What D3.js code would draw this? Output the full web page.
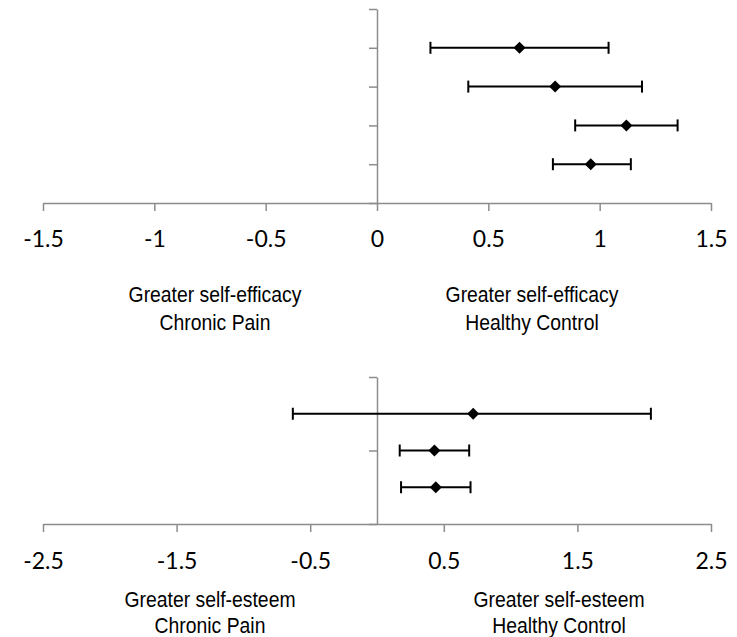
<!DOCTYPE html>
<html>
<head>
<meta charset="utf-8">
<script src="https://cdn.jsdelivr.net/npm/d3@7"></script>
<style>
  html, body { margin: 0; padding: 0; background: #fff; }
  svg { display: block; }
</style>
</head>
<body>
<svg id="chart" width="737" height="637"></svg>
<script>
// Self-efficacy: mean difference with 95% CI, rows from top to bottom
const efficacyRows = [4, 3, 2, 1];
const efficacyMean = [0.64, 0.80, 1.12, 0.96];
const efficacyLow  = [0.24, 0.41, 0.89, 0.79];
const efficacyHigh = [1.04, 1.19, 1.35, 1.14];
const efficacyTicks = [-1.5, -1, -0.5, 0, 0.5, 1, 1.5];
const efficacyRowTicks = [0, 1, 2, 3, 4, 5];

// Self-esteem: mean difference with 95% CI, rows from top to bottom
const esteemRows = [3, 2, 1];
const esteemMean = [0.72, 0.43, 0.44];
const esteemLow  = [-0.63, 0.17, 0.18];
const esteemHigh = [2.05, 0.69, 0.70];
const esteemTicks = [-2.5, -1.5, -0.5, 0.5, 1.5, 2.5];
const esteemRowTicks = [0, 2, 4];

const efficacyLeftLabel  = ["Greater self-efficacy", "Chronic Pain"];
const efficacyRightLabel = ["Greater self-efficacy", "Healthy Control"];
const esteemLeftLabel    = ["Greater self-esteem", "Chronic Pain"];
const esteemRightLabel   = ["Greater self-esteem", "Healthy Control"];

const svg = d3.select("#chart");
const AXIS_COLOR = "#8c8c8c";

function drawPanel(cfg) {
  const g = svg.append("g");
  const x = d3.scaleLinear().domain(cfg.xDomain).range([43, 711]);
  const y = d3.scaleLinear().domain(cfg.yDomain).range(cfg.yRange);

  // vertical (row) axis at x = 0
  const yAxis = d3.axisLeft(y).tickValues(cfg.rowTicks).tickSize(8).tickSizeOuter(0).tickFormat("");
  const ya = g.append("g").attr("transform", `translate(${x(0)},0)`).call(yAxis);
  ya.select(".domain").attr("stroke", AXIS_COLOR).attr("stroke-width", 1.5);
  ya.selectAll(".tick line").attr("stroke", AXIS_COLOR).attr("stroke-width", 1.5);

  // horizontal value axis (plain hyphen for negatives)
  const xAxis = d3.axisBottom(x).tickValues(cfg.ticks).tickSize(8).tickSizeOuter(0)
    .tickFormat(d => String(d));
  const xa = g.append("g").attr("transform", `translate(0,${y(0)})`).call(xAxis);
  xa.select(".domain").attr("stroke", AXIS_COLOR).attr("stroke-width", 1.5);
  xa.selectAll(".tick line").attr("stroke", AXIS_COLOR).attr("stroke-width", 1.5);
  xa.selectAll(".tick text")
    .attr("y", cfg.tickLabelY).attr("dy", null)
    .attr("fill", "#000")
    .style("font-family", "Lato, 'Open Sans', sans-serif")
    .style("font-size", "23px");

  const rows = cfg.rows.map((r, i) => ({ r, m: cfg.mean[i], lo: cfg.low[i], hi: cfg.high[i] }));

  // confidence interval lines and caps
  const bars = g.append("g").selectAll("g").data(rows).join("g");
  bars.append("line")
    .attr("x1", d => x(d.lo)).attr("x2", d => x(d.hi))
    .attr("y1", d => y(d.r)).attr("y2", d => y(d.r))
    .attr("stroke", "#000").attr("stroke-width", 2);
  [d => d.lo, d => d.hi].forEach(acc => {
    bars.append("line")
      .attr("x1", d => x(acc(d))).attr("x2", d => x(acc(d)))
      .attr("y1", d => y(d.r) - 6).attr("y2", d => y(d.r) + 6)
      .attr("stroke", "#000").attr("stroke-width", 2);
  });

  // point estimates as diamonds
  const diamond = d3.symbol().type(d3.symbolSquare).size(72);
  g.append("g").selectAll("path").data(rows).join("path")
    .attr("d", diamond)
    .attr("transform", d => `translate(${x(d.m)},${y(d.r)}) rotate(45)`)
    .attr("fill", "#000");

  // direction labels under the axis
  const labelFont = "'Liberation Sans', Arial, sans-serif";
  [[cfg.leftLabel, cfg.leftX], [cfg.rightLabel, cfg.rightX]].forEach(([lines, cx]) => {
    lines.forEach((t, i) => {
      g.append("text")
        .attr("transform", `translate(${cx},${cfg.labelY[i]}) scale(0.88,1)`)
        .attr("text-anchor", "middle")
        .style("font-family", labelFont)
        .style("font-size", "22px")
        .attr("fill", "#000")
        .text(t);
    });
  });
}

drawPanel({
  xDomain: [-1.5, 1.5], yDomain: [0, 5], yRange: [203, 9],
  ticks: efficacyTicks, rowTicks: efficacyRowTicks,
  rows: efficacyRows, mean: efficacyMean, low: efficacyLow, high: efficacyHigh,
  tickLabelY: 44,
  leftLabel: efficacyLeftLabel, rightLabel: efficacyRightLabel,
  leftX: 215, rightX: 532, labelY: [302, 330]
});

drawPanel({
  xDomain: [-2.5, 2.5], yDomain: [0, 4], yRange: [524, 377],
  ticks: esteemTicks, rowTicks: esteemRowTicks,
  rows: esteemRows, mean: esteemMean, low: esteemLow, high: esteemHigh,
  tickLabelY: 45,
  leftLabel: esteemLeftLabel, rightLabel: esteemRightLabel,
  leftX: 210, rightX: 559, labelY: [607, 633]
});
</script>
</body>
</html>
